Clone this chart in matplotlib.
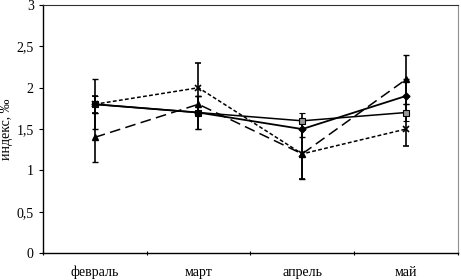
import numpy as np
import matplotlib
matplotlib.use('Agg')
import matplotlib.pyplot as plt

plt.rcParams['font.family'] = ['Liberation Serif', 'DejaVu Serif']

months = ['февраль', 'март', 'апрель', 'май']
diamond = [1.8, 1.7, 1.5, 1.9]
diamond_err = [0.3, 0.2, 0.1, 0.2]
square = [1.8, 1.7, 1.6, 1.7]
square_err = [0.1, 0.2, 0.1, 0.1]
triangle = [1.4, 1.8, 1.2, 2.1]
triangle_err = [0.3, 0.1, 0.3, 0.3]
cross = [1.8, 2.0, 1.2, 1.5]
cross_err = [0.1, 0.3, 0.3, 0.2]

fig = plt.figure(figsize=(4.61, 2.80), dpi=100)
ax = fig.add_axes([0.093, 0.096, 0.9, 0.886])
x = np.arange(len(months))

ek = dict(ecolor='black', elinewidth=1.2, capsize=2.5, capthick=1.0)
ax.errorbar(x, cross, yerr=cross_err, color='black', lw=1.1, ls=(0, (2.5, 1.5)),
            marker='x', ms=4, mew=1.2, **ek)
ax.errorbar(x, triangle, yerr=triangle_err, color='black', lw=1.1, ls=(0, (7, 3.5)),
            marker='^', ms=5, **ek)
ax.errorbar(x, square, yerr=square_err, color='black', lw=1.1, ls='-',
            marker='s', ms=5, mfc='#999999', mec='black', mew=0.8, **ek)
ax.errorbar(x, diamond, yerr=diamond_err, color='black', lw=1.3, ls='-',
            marker='D', ms=3.5, **ek)

ax.set_xlim(-0.5, 3.5)
ax.set_ylim(0, 3)
ax.set_yticks(np.arange(0, 3.01, 0.5))
ax.set_yticklabels(['0', '0,5', '1', '1,5', '2', '2,5', '3'])
ax.set_xticks(np.arange(-0.5, 3.6, 1))
ax.set_xticklabels([])
ax.set_xticks(x, minor=True)
ax.set_xticklabels(months, minor=True)
ax.tick_params(axis='x', which='minor', length=0, pad=9, labelsize=10)
ax.tick_params(axis='x', which='major', length=3, direction='inout')
ax.tick_params(axis='y', length=3, labelsize=10, direction='out')
ax.set_ylabel('индекс, ‰', fontsize=10)
ax.yaxis.set_label_coords(-0.073, 0.5)

ax.spines['top'].set_color('#303030')
ax.spines['right'].set_color('#909090')
ax.spines['left'].set_linewidth(1.0)
ax.spines['bottom'].set_linewidth(1.0)

fig.savefig('out.png', dpi=100)
